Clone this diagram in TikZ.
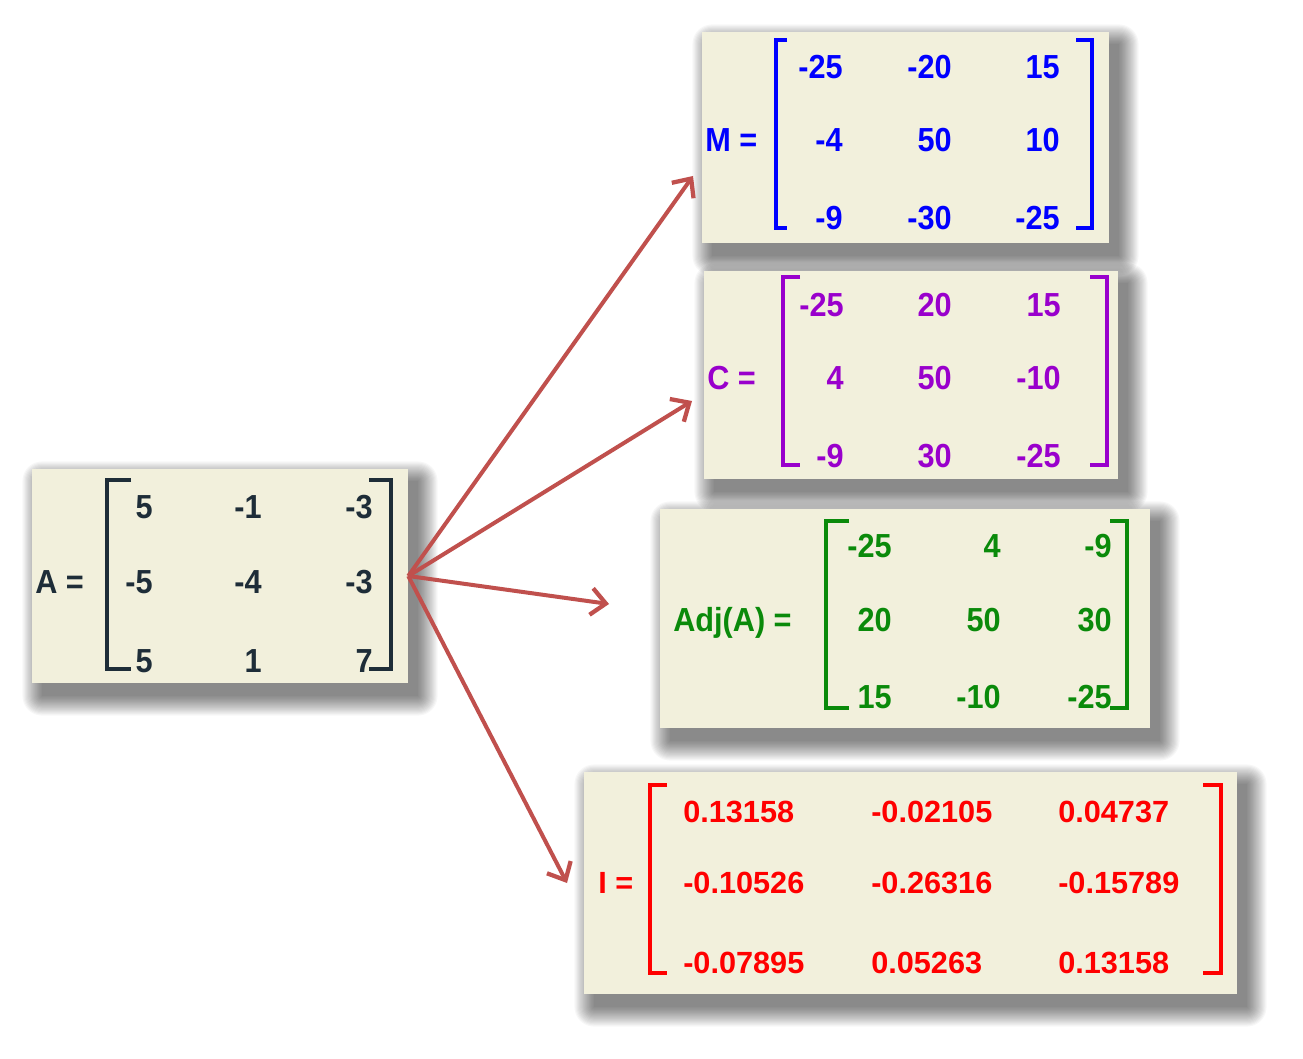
\documentclass[tikz,border=0pt]{standalone}
\usepackage{fontspec}
\setmainfont{Liberation Sans}
\newfontfamily\mfont[FakeStretch=0.92]{Liberation Sans}
\newfontfamily\ifont{Liberation Sans}
\usetikzlibrary{fit,arrows.meta}
\definecolor{boxfill}{HTML}{F2F0DC}
\definecolor{adark}{HTML}{1E2D38}
\definecolor{mblue}{HTML}{0000FF}
\definecolor{cpurple}{HTML}{9900CC}
\definecolor{agreen}{HTML}{0A8A0A}
\definecolor{ired}{HTML}{FF0000}
\definecolor{arrred}{HTML}{C0504D}
\newcommand\boxshadow[4]{%
  \foreach \i in {0,...,17}{%
    \pgfmathsetmacro\rr{\i*1.15}%
    \fill[black, fill opacity=0.032, rounded corners={\rr*0.75pt}] ({#1+10-\rr},{#2+12-\rr}) rectangle ({#3+10+\rr},{#4+13+\rr});
  }%
}
\tikzset{
  matbox/.style={fill=boxfill, inner sep=0pt, draw=none},
  numr/.style={inner sep=0pt, anchor=base east, font=\mfont\bfseries\fontsize{25}{30}\selectfont},
  numl/.style={inner sep=0pt, anchor=base west, font=\ifont\bfseries\fontsize{23}{28}\selectfont},
  lab/.style={inner sep=0pt, anchor=base west, font=\mfont\bfseries\fontsize{25}{30}\selectfont},
  brk/.style={line width=2.3pt, miter limit=10},
  arr/.style={draw=arrred, line width=3pt, -{Straight Barb[length=11pt,width=20pt,line width=3.2pt]}}
}
\begin{document}
\begin{tikzpicture}[x=0.75pt,y=-0.75pt]
\path[fill=white] (0,0) rectangle (1303,1059);
\useasboundingbox (0,0) rectangle (1303,1059);

% shadows
\boxshadow{32}{469}{408}{683}
\boxshadow{702}{32}{1109}{243}
\boxshadow{704}{271}{1118}{479}
\boxshadow{660}{509}{1150}{728}
\boxshadow{584}{772}{1237}{994}

% boxes
\node[matbox, fit={(32,469) (408,683)}] (A) {};
\node[matbox, fit={(702,32) (1109,243)}] (M) {};
\node[matbox, fit={(704,271) (1118,479)}] (C) {};
\node[matbox, fit={(660,509) (1150,728)}] (Adj) {};
\node[matbox, fit={(584,772) (1237,994)}] (I) {};

% ---- A ----
\node[lab, text=adark] (Alab) at (35,593) {A =};
\draw[brk, adark] (131,480) -- (107,480) -- (107,669) -- (131,669);
\draw[brk, adark] (369,480) -- (391,480) -- (391,669) -- (369,669);
\foreach \r/\y/\a/\b/\c in {1/518/5/-1/-3, 2/593/-5/-4/-3, 3/672/5/1/7}{
  \node[numr, text=adark] (a\r1) at (153,\y) {\a};
  \node[numr, text=adark] (a\r2) at (262,\y) {\b};
  \node[numr, text=adark] (a\r3) at (373,\y) {\c};
}

% ---- M ----
\node[lab, text=mblue] (Mlab) at (705,152) {M =};
\draw[brk, mblue] (787,40) -- (776,40) -- (776,228) -- (787,228);
\draw[brk, mblue] (1076,40) -- (1092,40) -- (1092,228) -- (1076,228);
\foreach \r/\y/\a/\b/\c in {1/79/-25/-20/15, 2/152/-4/50/10, 3/230/-9/-30/-25}{
  \node[numr, text=mblue] (m\r1) at (843,\y) {\a};
  \node[numr, text=mblue] (m\r2) at (952,\y) {\b};
  \node[numr, text=mblue] (m\r3) at (1060,\y) {\c};
}

% ---- C ----
\node[lab, text=cpurple] (Clab) at (707,389) {C =};
\draw[brk, cpurple] (800,277) -- (783,277) -- (783,465) -- (800,465);
\draw[brk, cpurple] (1090,277) -- (1107,277) -- (1107,465) -- (1090,465);
\foreach \r/\y/\a/\b/\c in {1/317/-25/20/15, 2/389/4/50/-10, 3/467/-9/30/-25}{
  \node[numr, text=cpurple] (c\r1) at (844,\y) {\a};
  \node[numr, text=cpurple] (c\r2) at (952,\y) {\b};
  \node[numr, text=cpurple] (c\r3) at (1061,\y) {\c};
}

% ---- Adj ----
\node[lab, text=agreen] (Adjlab) at (673,631) {Adj(A) =};
\draw[brk, agreen] (849,521) -- (826,521) -- (826,708) -- (849,708);
\draw[brk, agreen] (1110,521) -- (1127,521) -- (1127,708) -- (1110,708);
\foreach \r/\y/\a/\b/\c in {1/557/-25/4/-9, 2/631/20/50/30, 3/708/15/-10/-25}{
  \node[numr, text=agreen] (d\r1) at (892,\y) {\a};
  \node[numr, text=agreen] (d\r2) at (1001,\y) {\b};
  \node[numr, text=agreen] (d\r3) at (1112,\y) {\c};
}

% ---- I ----
\node[numl, text=ired] (Ilab) at (598,893) {I =};
\draw[brk, ired] (667,785) -- (650,785) -- (650,973) -- (667,973);
\draw[brk, ired] (1203,785) -- (1221,785) -- (1221,973) -- (1203,973);
\foreach \r/\y/\a/\b/\c in {1/822/0.13158/-0.02105/0.04737, 2/893/-0.10526/-0.26316/-0.15789, 3/973/-0.07895/0.05263/0.13158}{
  \node[numl, text=ired] (i\r1) at (683,\y) {\a};
  \node[numl, text=ired] (i\r2) at (871,\y) {\b};
  \node[numl, text=ired] (i\r3) at (1058,\y) {\c};
}

% ---- arrows ----
\coordinate (tM) at (693,176);
\coordinate (tC) at (692,401);
\coordinate (tAdj) at (609,604);
\coordinate (tI) at (567,883);
\draw[arr] (A.east) -- (tM);
\draw[arr] (A.east) -- (tC);
\draw[arr] (A.east) -- (tAdj);
\draw[arr] (A.east) -- (tI);
\end{tikzpicture}
\end{document}
